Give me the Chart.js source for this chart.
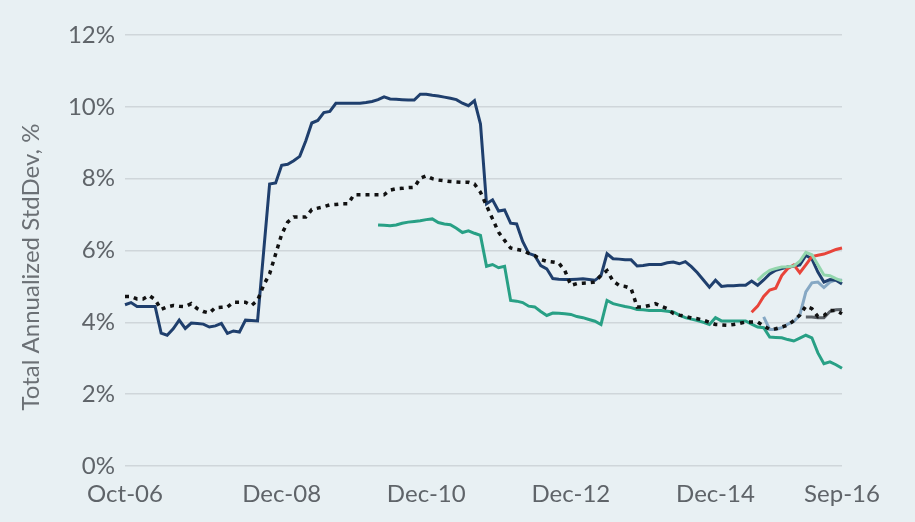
<!DOCTYPE html>
<html>
<head>
<meta charset="utf-8">
<script src="https://cdn.jsdelivr.net/npm/chart.js@4"></script>
<style>
  body { margin: 0; background: #e8f0f3; }
  #wrap { width: 915px; height: 522px; }
</style>
</head>
<body>
<div id="wrap"><canvas id="myChart" width="915" height="522"></canvas></div>
<script>
const ctx = document.getElementById('myChart').getContext('2d');

// monthly, Oct-06 .. Sep-16
const monthNames = ['Jan','Feb','Mar','Apr','May','Jun','Jul','Aug','Sep','Oct','Nov','Dec'];
const labels = [];
for (let k = 0; k < 120; k++) {
    const m = (9 + k) % 12;
    const y = 6 + Math.floor((9 + k) / 12);
    labels.push(monthNames[m] + '-' + String(y).padStart(2, '0'));
}
const tickLabels = ['Oct-06', 'Dec-08', 'Dec-10', 'Dec-12', 'Dec-14', 'Sep-16'];
const yTicks = [0, 2, 4, 6, 8, 10, 12];
const yTitle = 'Total Annualized StdDev, %';

const navy = [
    4.49, 4.55, 4.44, 4.44, 4.44, 4.44, 3.70, 3.64, 3.82, 4.06,
    3.83, 3.98, 3.97, 3.95, 3.87, 3.90, 3.97, 3.69, 3.76, 3.73,
    4.06, 4.05, 4.04, 5.95, 7.85, 7.88, 8.37, 8.40, 8.50, 8.62,
    9.05, 9.55, 9.62, 9.84, 9.87, 10.10, 10.10, 10.10, 10.10, 10.10,
    10.12, 10.15, 10.20, 10.28, 10.22, 10.21, 10.20, 10.19, 10.19, 10.35,
    10.35, 10.32, 10.30, 10.27, 10.24, 10.20, 10.10, 10.03, 10.17, 9.52,
    7.30, 7.41, 7.10, 7.13, 6.76, 6.74, 6.25, 5.92, 5.86, 5.58,
    5.49, 5.22, 5.20, 5.19, 5.19, 5.20, 5.21, 5.19, 5.17, 5.30,
    5.91, 5.77, 5.76, 5.74, 5.74, 5.57, 5.58, 5.61, 5.61, 5.61,
    5.66, 5.68, 5.63, 5.69, 5.55, 5.38, 5.18, 4.98, 5.17, 5.00,
    5.02, 5.02, 5.03, 5.03, 5.15, 5.03, 5.18, 5.35, 5.45, 5.50,
    5.54, 5.56, 5.60, 5.86, 5.77, 5.40, 5.12, 5.19, 5.17, 5.07
];

const dotted = [
    4.72, 4.72, 4.65, 4.65, 4.75, 4.63, 4.36, 4.43, 4.47, 4.45,
    4.44, 4.52, 4.38, 4.30, 4.26, 4.41, 4.42, 4.43, 4.56, 4.56,
    4.56, 4.47, 4.61, 5.03, 5.35, 5.90, 6.45, 6.79, 6.93, 6.93,
    6.93, 7.14, 7.18, 7.22, 7.27, 7.28, 7.30, 7.30, 7.55, 7.55,
    7.55, 7.55, 7.55, 7.55, 7.68, 7.72, 7.73, 7.75, 7.76, 8.01,
    8.08, 8.00, 7.96, 7.94, 7.92, 7.91, 7.90, 7.90, 7.85, 7.62,
    7.25, 6.88, 6.51, 6.28, 6.07, 6.03, 6.00, 5.92, 5.86, 5.75,
    5.70, 5.68, 5.65, 5.44, 5.03, 5.08, 5.09, 5.10, 5.12, 5.31,
    5.44, 5.15, 5.03, 5.00, 4.94, 4.43, 4.43, 4.47, 4.52, 4.45,
    4.38, 4.25, 4.20, 4.17, 4.12, 4.10, 4.06, 4.00, 3.94, 3.93,
    3.92, 3.94, 3.97, 4.01, 4.01, 4.01, 3.90, 3.80, 3.82, 3.87,
    3.92, 4.05, 4.20, 4.45, 4.38, 4.16, 4.19, 4.33, 4.33, 4.24
];

// series that start later: leading months are empty
const teal = Array(42).fill(null).concat([
    6.71, 6.70, 6.69, 6.71, 6.76, 6.79, 6.81, 6.83,
    6.86, 6.88, 6.78, 6.74, 6.72, 6.62, 6.50, 6.55, 6.48, 6.42,
    5.56, 5.61, 5.52, 5.56, 4.61, 4.59, 4.55, 4.45, 4.43, 4.30,
    4.19, 4.26, 4.25, 4.24, 4.22, 4.16, 4.13, 4.08, 4.03, 3.94,
    4.61, 4.52, 4.48, 4.44, 4.41, 4.36, 4.35, 4.33, 4.33, 4.33,
    4.31, 4.29, 4.20, 4.13, 4.09, 4.05, 4.00, 3.94, 4.13, 4.04,
    4.04, 4.04, 4.04, 4.04, 3.95, 3.87, 3.85, 3.59, 3.58, 3.57,
    3.52, 3.48, 3.56, 3.64, 3.57, 3.15, 2.85, 2.90, 2.82, 2.72
]);

const red = Array(104).fill(null).concat([
    4.28, 4.45, 4.72, 4.90, 4.95, 5.30, 5.50, 5.60,
    5.38, 5.60, 5.83, 5.87, 5.90, 5.96, 6.03, 6.07
]);

const lightGreen = Array(105).fill(null).concat([
    5.17, 5.33, 5.45, 5.50, 5.54, 5.55, 5.57,
    5.70, 5.95, 5.88, 5.60, 5.32, 5.30, 5.22, 5.15
]);

const greyBlue = Array(106).fill(null).concat([
    4.15, 3.80, 3.80, 3.85, 3.95, 4.02, 4.20,
    4.85, 5.10, 5.12, 4.97, 5.12, 5.18, 5.17
]);

const darkGrey = Array(113).fill(null).concat([
    4.15, 4.15, 4.13, 4.13, 4.30, 4.35, 4.36
]);

const lineDefaults = {
    pointRadius: 0,
    borderWidth: 3,
    tension: 0,
    fill: false,
    spanGaps: false,
};

const data = {
    labels,
    datasets: [
        { ...lineDefaults, data: dotted, borderColor: '#111111', borderDash: [4, 5], borderWidth: 3.5 },
        { ...lineDefaults, data: lightGreen, borderColor: '#93d6ad' },
        { ...lineDefaults, data: red, borderColor: '#e8443a' },
        { ...lineDefaults, data: navy, borderColor: '#1f3f6d' },
        { ...lineDefaults, data: darkGrey, borderColor: '#5b6167' },
        { ...lineDefaults, data: greyBlue, borderColor: '#86a8c4' },
        { ...lineDefaults, data: teal, borderColor: '#28a085' },
    ],
};

// rotated y title, a bit below the plot centre like the original
const yTitlePlugin = {
    id: 'yTitle',
    afterDraw(chart) {
        const c = chart.ctx;
        c.save();
        c.translate(31, 267);
        c.rotate(-Math.PI / 2);
        c.font = '24px Lato';
        c.fillStyle = '#6b7075';
        c.textAlign = 'center';
        c.textBaseline = 'middle';
        c.fillText(yTitle, 0, 0);
        c.restore();
    },
};

const config = {
    type: 'line',
    data: data,
    plugins: [yTitlePlugin],
    options: {
        responsive: false,
        animation: false,
        layout: { padding: { left: 0, right: 73, top: 35, bottom: 0 } },
        plugins: { legend: { display: false }, tooltip: { enabled: false } },
        scales: {
            x: {
                offset: false,
                grid: { display: false },
                border: { display: false },
                ticks: {
                    autoSkip: false,
                    maxRotation: 0,
                    padding: 6,
                    color: '#5f6469',
                    font: { family: 'Lato', size: 24 },
                    callback: function (value, index) {
                        const l = labels[index];
                        return tickLabels.includes(l) ? l : null;
                    },
                },
                afterFit: (scale) => { scale.height = 56; },
            },
            y: {
                min: 0,
                max: 12,
                afterBuildTicks: (scale) => { scale.ticks = yTicks.map(v => ({ value: v })); },
                grid: { color: '#cfd6da', lineWidth: 1.5, drawTicks: false },
                border: { display: false },
                ticks: {
                    padding: 10,
                    color: '#5f6469',
                    font: { family: 'Lato', size: 24 },
                    callback: (v) => v + '%',
                },
                afterFit: (scale) => { scale.width = 125; },
            },
        },
    },
};

const myChart = new Chart(ctx, config);
</script>
</body>
</html>
